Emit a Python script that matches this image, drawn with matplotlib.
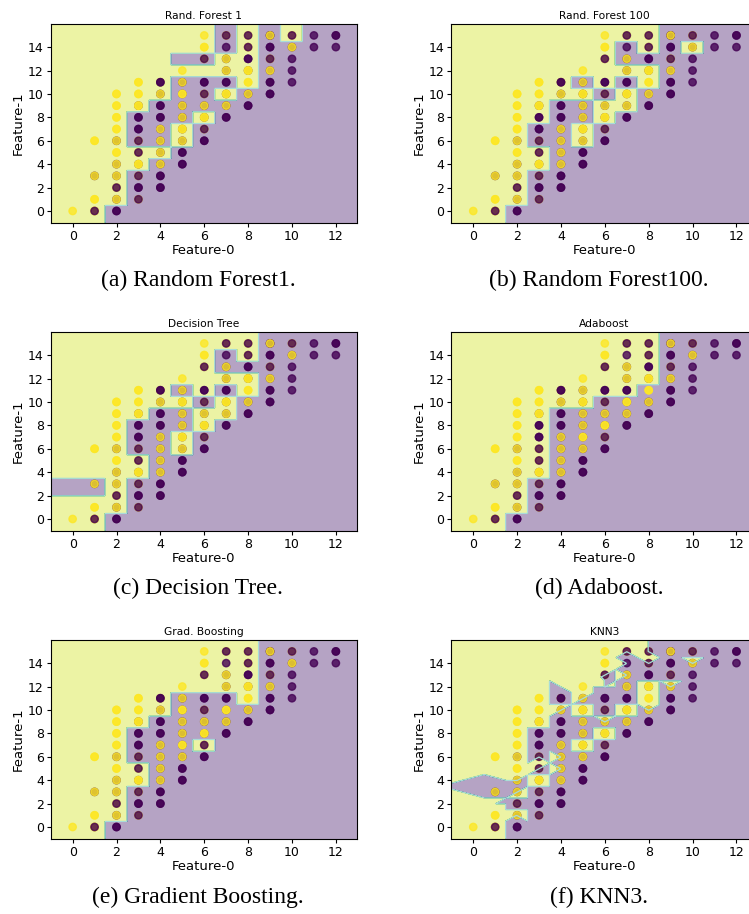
import numpy as np
import matplotlib
matplotlib.use("Agg")
import matplotlib.pyplot as plt

# ---------------- data: training points (location + labels in drawing order) -------------
# labels: 'P' = class 0 (purple), 'Y' = class 1 (yellow); several letters = stacked duplicates
loc_x = [0,
         1, 1, 1, 1,
         2, 2, 2, 2, 2, 2, 2, 2, 2, 2, 2,
         3, 3, 3, 3, 3, 3, 3, 3, 3, 3, 3,
         4, 4, 4, 4, 4, 4, 4, 4, 4, 4,
         5, 5, 5, 5, 5, 5, 5, 5, 5,
         6, 6, 6, 6, 6, 6, 6, 6, 6,
         7, 7, 7, 7, 7, 7, 7, 7,
         8, 8, 8, 8, 8, 8, 8,
         9, 9, 9, 9, 9, 9,
         10, 10, 10, 10, 10,
         11, 11,
         12, 12]
loc_y = [0,
         0, 1, 3, 6,
         0, 1, 2, 3, 4, 5, 6, 7, 8, 9, 10,
         1, 2, 3, 4, 5, 6, 7, 8, 9, 10, 11,
         2, 3, 4, 5, 6, 7, 8, 9, 10, 11,
         4, 5, 6, 7, 8, 9, 10, 11, 12,
         6, 7, 8, 9, 10, 11, 13, 14, 15,
         8, 9, 10, 11, 12, 13, 14, 15,
         9, 10, 11, 12, 13, 14, 15,
         10, 11, 12, 13, 14, 15,
         11, 12, 13, 14, 15,
         14, 15,
         14, 15]
loc_lab = ["Y",
           "YYP", "YY", "PY", "YY",
           "PP", "PY", "YP", "PY", "PY", "YY", "PY", "YY", "YY", "YY", "YY",
           "YP", "PP", "YP", "PYY", "YP", "YP", "PP", "PP", "PYY", "YY", "YY",
           "PP", "PP", "PY", "PY", "PY", "PY", "PP", "PP", "PY", "YPP",
           "PP", "PP", "PY", "PYY", "PY", "PY", "PYY", "PY", "Y",
           "PP", "YP", "PYY", "PY", "YP", "PP", "YP", "YY", "Y",
           "PP", "PY", "PYY", "PP", "PY", "PY", "P", "YP",
           "PP", "PY", "YY", "PYY", "PP", "YP", "YP",
           "PP", "PP", "PY", "YP", "PP", "PPY",
           "P", "P", "P", "PY", "YP",
           "P", "P",
           "P", "PP"]

# ---------------- decision regions of the tree-based models ------------------------------
# one string per row y = 15 ... -1, one character per column x = -1 ... 12
grid_rf1 = ["YYYYYYYYPYPYPP", "YYYYYYYYPYPPPP", "YYYYYYPPYYPPPP", "YYYYYYYYYYPPPP",
            "YYYYYYPPPYPPPP", "YYYYYYPPYPPPPP", "YYYYYPPPPPPPPP", "YYYYPPPYPPPPPP",
            "YYYYPPYPPPPPPP", "YYYYPPYPPPPPPP", "YYYYYYPPPPPPPP", "YYYYYPPPPPPPPP",
            "YYYYPPPPPPPPPP", "YYYYPPPPPPPPPP", "YYYYPPPPPPPPPP", "YYYPPPPPPPPPPP",
            "YYYPPPPPPPPPPP"]
grid_rf100 = ["YYYYYYYYYYPPPP", "YYYYYYYYPYPYPP", "YYYYYYYYPPPPPP", "YYYYYYYYYYPPPP",
              "YYYYYYPYPYPPPP", "YYYYYYYPYPPPPP", "YYYYYPPYYPPPPP", "YYYYYPPYPPPPPP",
              "YYYYPPYPPPPPPP", "YYYYPPYPPPPPPP", "YYYYYPPPPPPPPP", "YYYYYPPPPPPPPP",
              "YYYYPPPPPPPPPP", "YYYYPPPPPPPPPP", "YYYYPPPPPPPPPP", "YYYPPPPPPPPPPP",
              "YYYPPPPPPPPPPP"]
grid_dt = ["YYYYYYYYYYPPPP", "YYYYYYYYPYPPPP", "YYYYYYYYPPPPPP", "YYYYYYYYYYPPPP",
           "YYYYYYPYPYPPPP", "YYYYYYYPYPPPPP", "YYYYYPPYYPPPPP", "YYYYPPPYPPPPPP",
           "YYYYPPYPPPPPPP", "YYYYPPYPPPPPPP", "YYYYYPPPPPPPPP", "YYYYYPPPPPPPPP",
           "YYYYPPPPPPPPPP", "YYYYPPPPPPPPPP", "YYYYPPPPPPPPPP", "YYYPPPPPPPPPPP",
           "YYYPPPPPPPPPPP"]
dt_band_x = (-1.0, 1.5)      # extra split of the decision tree on the left
dt_band_y = (2.0, 3.5)
grid_ada = ["YYYYYYYYYYPPPP", "YYYYYYYYYYPPPP", "YYYYYYYYYYPPPP", "YYYYYYYYYYPPPP",
            "YYYYYYYYYPPPPP", "YYYYYYYPPPPPPP", "YYYYYPPPPPPPPP", "YYYYYPPPPPPPPP",
            "YYYYYPPPPPPPPP", "YYYYYPPPPPPPPP", "YYYYYPPPPPPPPP", "YYYYYPPPPPPPPP",
            "YYYYPPPPPPPPPP", "YYYYPPPPPPPPPP", "YYYYPPPPPPPPPP", "YYYPPPPPPPPPPP",
            "YYYPPPPPPPPPPP"]
grid_gb = ["YYYYYYYYYYPPPP", "YYYYYYYYYYPPPP", "YYYYYYYYYYPPPP", "YYYYYYYYYYPPPP",
           "YYYYYYPPPYPPPP", "YYYYYYPPPPPPPP", "YYYYYPPPPPPPPP", "YYYYPPPPPPPPPP",
           "YYYYPPPYPPPPPP", "YYYYPPPPPPPPPP", "YYYYYPPPPPPPPP", "YYYYYPPPPPPPPP",
           "YYYYPPPPPPPPPP", "YYYYPPPPPPPPPP", "YYYYPPPPPPPPPP", "YYYPPPPPPPPPPP",
           "YYYPPPPPPPPPPP"]
knn_k = 3

titles = ["Rand. Forest 1", "Rand. Forest 100", "Decision Tree", "Adaboost",
          "Grad. Boosting", "KNN3"]
captions = ["(a) Random Forest1.", "(b) Random Forest100.", "(c) Decision Tree.",
            "(d) Adaboost.", "(e) Gradient Boosting.", "(f) KNN3."]
xlabel = "Feature-0"
ylabel = "Feature-1"

# ---------------- expand points ----------------
px, py, pl = [], [], []
for x, y, s in zip(loc_x, loc_y, loc_lab):
    for ch in s:
        px.append(x); py.append(y); pl.append(1 if ch == "Y" else 0)
px = np.array(px, float); py = np.array(py, float); pl = np.array(pl)

h = 0.05
xx, yy = np.meshgrid(np.arange(px.min() - 1, px.max() + 1, h),
                     np.arange(py.min() - 1, py.max() + 1, h))


def grid_predict(grid):
    arr = np.array([[1 if c == "Y" else 0 for c in row] for row in grid])
    ix = np.clip(np.floor(xx + 0.5 + 1e-9).astype(int), -1, 12) + 1
    iy = 15 - np.clip(np.floor(yy + 0.5 + 1e-9).astype(int), -1, 15)
    return arr[iy, ix]


def knn_predict(k):
    P = np.c_[xx.ravel(), yy.ravel()]
    out = np.empty(len(P), int)
    for s in range(0, len(P), 5000):
        Q = P[s:s + 5000]
        d = (Q[:, None, 0] - px[None, :]) ** 2 + (Q[:, None, 1] - py[None, :]) ** 2
        idx = np.argsort(d, axis=1, kind="stable")[:, :k]
        votes = pl[idx].sum(axis=1)
        out[s:s + 5000] = (votes * 2 > k).astype(int)
    return out.reshape(xx.shape)


Z_dt = grid_predict(grid_dt)
band = (xx < dt_band_x[1]) & (yy >= dt_band_y[0]) & (yy < dt_band_y[1])
Z_dt = np.where(band, 0, Z_dt)

Zs = [grid_predict(grid_rf1), grid_predict(grid_rf100), Z_dt,
      grid_predict(grid_ada), grid_predict(grid_gb), knn_predict(knn_k)]

fig = plt.figure(figsize=(7.49, 9.14), dpi=100)
W, H = 749.0, 914.0
lefts = [50.7, 451.3]
tops = [24.3, 332.3, 640.3]
aw, ah = 306.0, 198.4
cap_x = [198, 599]
cap_y = [280, 588, 897]

for i in range(6):
    r, c = divmod(i, 2)
    ax = fig.add_axes([lefts[c] / W, 1 - (tops[r] + ah) / H, aw / W, ah / H])
    ax.contourf(xx, yy, Zs[i], alpha=0.4)
    ax.contour(xx, yy, Zs[i], levels=[0.5], colors="#a9dcd9", linewidths=0.9)
    ax.scatter(px, py, c=pl, cmap="viridis", s=28, alpha=0.8)
    ax.set_title(titles[i], fontsize=7.7, pad=4)
    ax.set_xlabel(xlabel, fontsize=9.5, labelpad=1)
    ax.set_ylabel(ylabel, fontsize=9.5, labelpad=2)
    ax.tick_params(labelsize=9, length=3, pad=2)
    ax.set_xticks(np.arange(0, 13, 2))
    ax.set_yticks(np.arange(0, 15, 2))
    fig.text(cap_x[c] / W, 1 - cap_y[r] / H, captions[i], ha="center", va="center",
             fontsize=17, family="Liberation Serif")

fig.savefig("out.png", dpi=100)
